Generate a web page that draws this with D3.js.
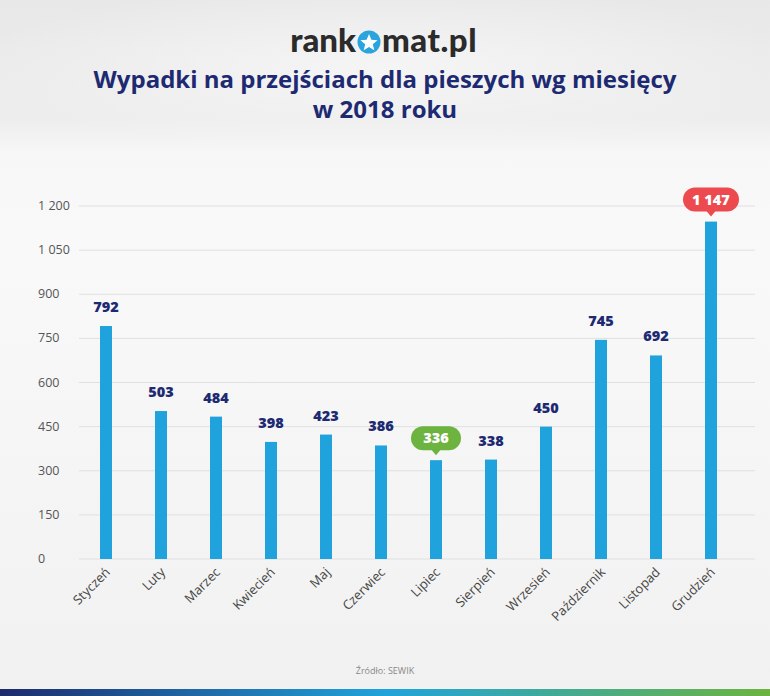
<!DOCTYPE html>
<html><head><meta charset="utf-8">
<script src="https://cdn.jsdelivr.net/npm/d3@7"></script>
<style>body{margin:0;padding:0;overflow:hidden}svg{display:block}</style>
</head><body>
<svg id="c" width="770" height="696"></svg>
<script>
const months = ["Styczeń","Luty","Marzec","Kwiecień","Maj","Czerwiec","Lipiec","Sierpień","Wrzesień","Październik","Listopad","Grudzień"];
const values = [792,503,484,398,423,386,336,338,450,745,692,1147];
const yTicks = [0,150,300,450,600,750,900,1050,1200];
const highlights = {"Lipiec":"#6db33f","Grudzień":"#ec4a4f"};

const svg = d3.select("#c");
const defs = svg.append("defs");
const bg = defs.append("linearGradient").attr("id","bg").attr("x1",0).attr("y1",0).attr("x2",0).attr("y2",1);
bg.append("stop").attr("offset","0").attr("stop-color","#e8e8e8");
bg.append("stop").attr("offset","0.17").attr("stop-color","#ededed");
bg.append("stop").attr("offset","0.22").attr("stop-color","#f7f7f7");
bg.append("stop").attr("offset","0.35").attr("stop-color","#f9f9f9");
bg.append("stop").attr("offset","1").attr("stop-color","#f1f1f1");
const rg = defs.append("radialGradient").attr("id","top").attr("cx","0.5").attr("cy","0.45").attr("r","0.55");
rg.append("stop").attr("offset","0").attr("stop-color","#f6f6f6").attr("stop-opacity",0.9);
rg.append("stop").attr("offset","1").attr("stop-color","#f6f6f6").attr("stop-opacity",0);
const bar = defs.append("linearGradient").attr("id","band");
bar.append("stop").attr("offset","0").attr("stop-color","#1e2a6c");
bar.append("stop").attr("offset","0.5").attr("stop-color","#1fa3dc");
bar.append("stop").attr("offset","1").attr("stop-color","#6cb33f");

svg.append("rect").attr("width",770).attr("height",696).attr("fill","url(#bg)");
svg.append("rect").attr("width",770).attr("height",150).attr("fill","url(#top)");
svg.append("rect").attr("y",689).attr("width",770).attr("height",7).attr("fill","url(#band)");

// logo
const logo = svg.append("g").attr("font-family","Lato, 'Open Sans', sans-serif").attr("font-weight",900).attr("font-size",33).attr("fill","#2b2b2b");
logo.append("text").attr("x",356).attr("y",52).attr("text-anchor","end").text("rank");
logo.append("circle").attr("cx",369).attr("cy",42).attr("r",11.5).attr("fill","#2aa4dc");
const star = d3.range(10).map(i=>{const a=-Math.PI/2+i*Math.PI/5, r=i%2?4:9; return [369+r*Math.cos(a),43+r*Math.sin(a)];});
logo.append("polygon").attr("points",star.map(p=>p.join(",")).join(" ")).attr("fill","#fff");
logo.append("text").attr("x",382).attr("y",52).attr("letter-spacing",0.5).text("mat.pl");

// title
const tt = svg.append("g").attr("font-family","'Open Sans', sans-serif").attr("font-weight",700).attr("font-size",24).attr("fill","#1d2a72").attr("text-anchor","middle");
tt.append("text").attr("x",385).attr("y",88).text("Wypadki na przejściach dla pieszych wg miesięcy");
tt.append("text").attr("x",385).attr("y",118).text("w 2018 roku");

const x = d3.scalePoint().domain(months).range([106,711]);
const y = d3.scaleLinear().domain([0,1200]).range([559,206]);
const fmt = v => d3.format(",")(v).replace(/,/g," ");

// grid
svg.append("g").selectAll("line").data(yTicks).join("line")
  .attr("x1",79).attr("x2",755).attr("y1",d=>y(d)).attr("y2",d=>y(d))
  .attr("stroke","#e0e0e0").attr("stroke-width",1);
svg.append("g").selectAll("text").data(yTicks).join("text")
  .attr("x",38).attr("y",d=>y(d)+4).attr("font-family","'Open Sans', sans-serif").attr("font-size",12.5).attr("fill","#555")
  .text(d=>fmt(d));

// bars
const bw = 12;
svg.append("g").selectAll("rect").data(values).join("rect")
  .attr("x",(d,i)=>x(months[i])-bw/2).attr("width",bw)
  .attr("y",d=>y(d)).attr("height",d=>y(0)-y(d)).attr("fill","#20a3dd");

// value labels
const lab = svg.append("g").attr("font-family","'Open Sans', sans-serif").attr("font-weight",800).attr("font-size",14.5);
values.forEach((v,i)=>{
  const m = months[i], cx = x(m), top = y(v);
  if (highlights[m]) {
    const w = m==="Grudzień"?56:50, h=24, by = top-34;
    const g = lab.append("g");
    g.append("rect").attr("x",cx-w/2).attr("y",by).attr("width",w).attr("height",h).attr("rx",12).attr("fill",highlights[m]);
    g.append("path").attr("d",`M${cx-5},${by+h-1}L${cx},${by+h+5}L${cx+5},${by+h-1}Z`).attr("fill",highlights[m]);
    g.append("text").attr("x",cx).attr("y",by+17).attr("text-anchor","middle").attr("fill","#fff").text(fmt(v));
  } else {
    lab.append("text").attr("x",cx).attr("y",top-14).attr("text-anchor","middle").attr("fill","#1d2a72").text(fmt(v));
  }
});

// x labels
svg.append("g").selectAll("text").data(months).join("text")
  .attr("transform",d=>`translate(${x(d)+5},${573}) rotate(-45)`)
  .attr("text-anchor","end").attr("font-family","'Open Sans', sans-serif").attr("font-size",13).attr("fill","#444")
  .text(d=>d);

svg.append("text").attr("x",385).attr("y",674).attr("text-anchor","middle")
  .attr("font-family","'Open Sans', sans-serif").attr("font-size",9).attr("fill","#888").text("Źródło: SEWIK");
</script>
</body></html>
